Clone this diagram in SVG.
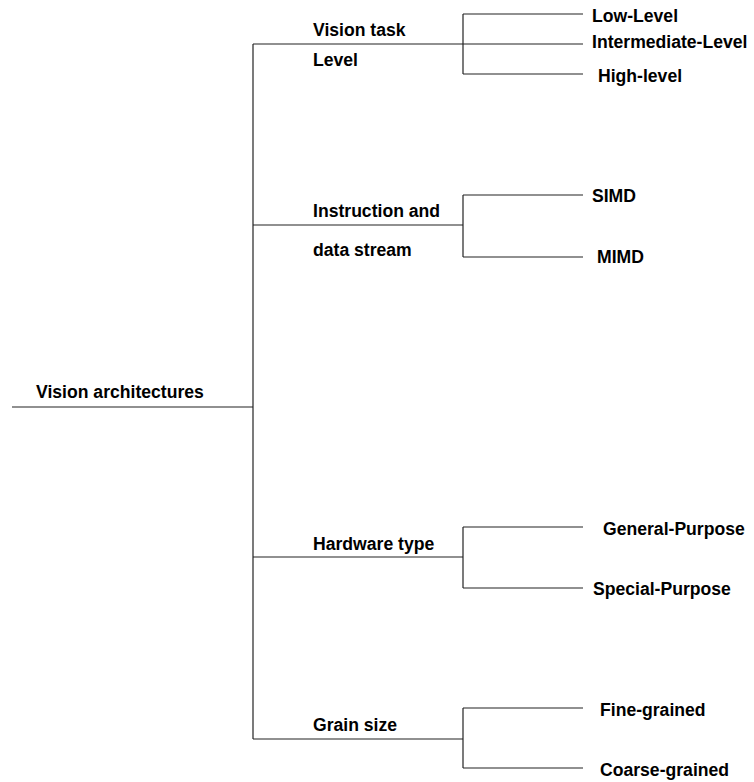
<svg xmlns="http://www.w3.org/2000/svg" width="754" height="782" viewBox="0 0 754 782">
<style>
text{font-family:"Liberation Sans",Arial,sans-serif;font-weight:bold;font-size:17.6px;fill:#000}
.c line{stroke:#222;stroke-width:1.2}
</style>
<rect width="754" height="782" fill="#fff"/>
<g class="c" id="connectors">
<line x1="12" y1="407" x2="253" y2="407"/>
<line x1="253" y1="44" x2="253" y2="739"/>
<line x1="253" y1="44" x2="583" y2="44"/>
<line x1="463" y1="14" x2="463" y2="74"/>
<line x1="463" y1="14" x2="583" y2="14"/>
<line x1="463" y1="74" x2="583" y2="74"/>
<line x1="253" y1="225" x2="463" y2="225"/>
<line x1="463" y1="195" x2="463" y2="257"/>
<line x1="463" y1="195" x2="583" y2="195"/>
<line x1="463" y1="257" x2="583" y2="257"/>
<line x1="253" y1="557" x2="463" y2="557"/>
<line x1="463" y1="527" x2="463" y2="588"/>
<line x1="463" y1="527" x2="583" y2="527"/>
<line x1="463" y1="588" x2="583" y2="588"/>
<line x1="253" y1="739" x2="463" y2="739"/>
<line x1="463" y1="708" x2="463" y2="768"/>
<line x1="463" y1="708" x2="583" y2="708"/>
<line x1="463" y1="768" x2="583" y2="768"/>
</g>
<g id="root"><text x="36" y="398">Vision architectures</text></g>
<g id="vision-task"><text x="313" y="36">Vision task</text><text x="313" y="66">Level</text></g>
<g id="low"><text x="592" y="22">Low-Level</text></g>
<g id="intermediate"><text x="592" y="48">Intermediate-Level</text></g>
<g id="high"><text x="598" y="82">High-level</text></g>
<g id="instruction"><text x="313" y="217">Instruction and</text><text x="313" y="256">data stream</text></g>
<g id="simd"><text x="592" y="202">SIMD</text></g>
<g id="mimd"><text x="597" y="263">MIMD</text></g>
<g id="hardware"><text x="313" y="550">Hardware type</text></g>
<g id="general"><text x="603" y="535">General-Purpose</text></g>
<g id="special"><text x="593" y="595">Special-Purpose</text></g>
<g id="grain"><text x="313" y="731">Grain size</text></g>
<g id="fine"><text x="600" y="716">Fine-grained</text></g>
<g id="coarse"><text x="600" y="776">Coarse-grained</text></g>
</svg>
